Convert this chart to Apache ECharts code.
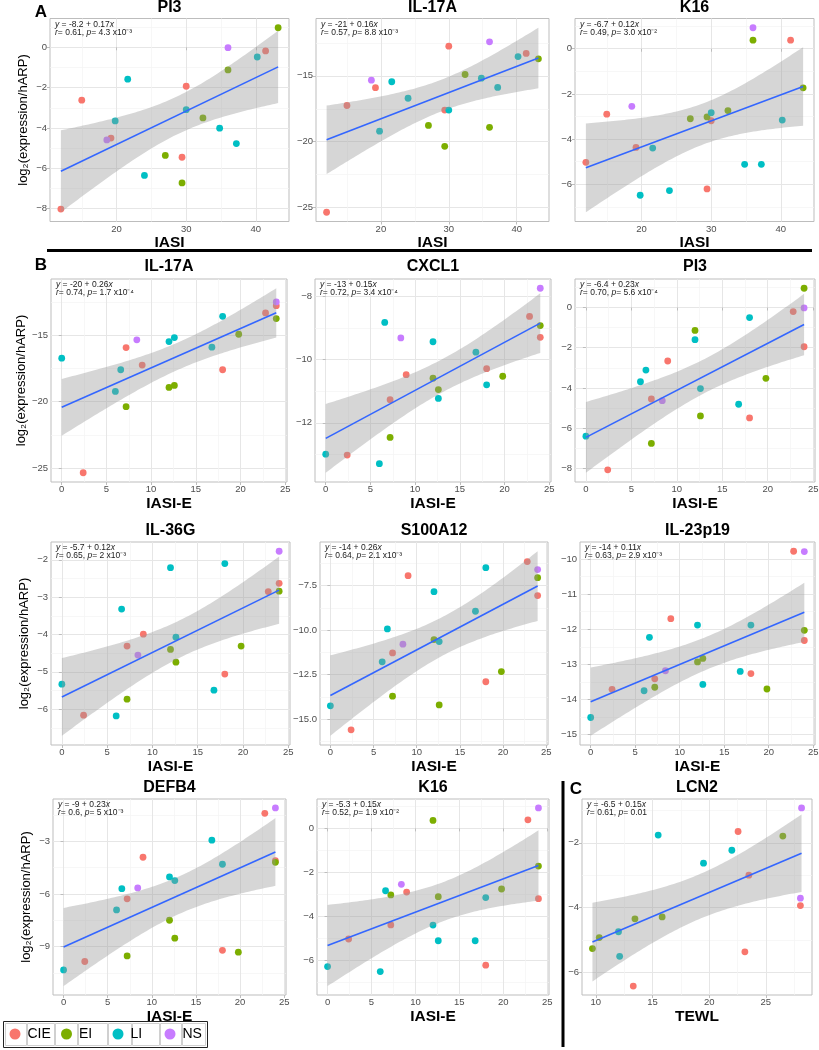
<!DOCTYPE html>
<html><head><meta charset="utf-8">
<script src="https://cdn.jsdelivr.net/npm/echarts@6/dist/echarts.min.js"></script>
<style>html,body{margin:0;padding:0;background:#fff}#c{width:819px;height:1050px}</style>
</head><body><div id="c"></div>
<script>
// ---------------- DATA ----------------
const groupNames = ['CIE', 'EI', 'LI', 'NS'];

// Panel A: IASI
const iasi = [12, 15, 18.6, 19.2, 19.8, 21.6, 24, 27, 29.4, 29.4, 30, 30, 32.4, 34.8, 36, 36, 37.2, 40.2, 41.4, 43.2];
const iasiGroup = ['CIE','CIE','NS','CIE','LI','LI','LI','EI','CIE','EI','CIE','LI','EI','LI','NS','EI','LI','LI','CIE','EI'];
const pi3A   = [-8.02, -2.62, -4.59, -4.5, -3.65, -1.58, -6.35, -5.36, -5.45, -6.72, -1.93, -3.09, -3.5, -4.01, -0.02, -1.12, -4.77, -0.48, -0.18, 0.97];
const il17aA = [-25.35, -17.25, -15.33, -15.9, -19.2, -15.45, -16.7, -18.76, -17.6, -20.35, -12.75, -17.6, -14.9, -15.18, -12.42, -18.91, -15.88, -13.54, -13.3, -13.71];
const k16A   = [-5.03, -2.9, -2.55, -4.37, -6.49, -4.4, -6.28, -3.1, -6.21, -3.02, -3.19, -2.83, -2.74, -5.12, 0.93, 0.38, -5.12, -3.16, 0.38, -1.73];

// Panel B: IASI-E
const iasiE = [0, 2.4, 6, 6.6, 7.2, 7.2, 8.4, 9, 12, 12, 12.6, 12.6, 16.8, 18, 18, 19.8, 22.8, 24, 24, 24];
const iasiEGroup = ['LI','CIE','LI','LI','CIE','EI','NS','CIE','LI','EI','LI','EI','LI','LI','CIE','EI','CIE','NS','CIE','EI'];
const il17aB  = [-16.73, -25.35, -19.23, -17.6, -15.93, -20.38, -15.35, -17.25, -15.48, -18.93, -15.18, -18.78, -15.9, -13.58, -17.6, -14.93, -13.33, -12.5, -12.78, -13.75];
const cxcl1B  = [-12.99, -13.02, -13.29, -8.83, -11.27, -12.46, -9.32, -10.48, -9.44, -10.59, -11.23, -10.95, -9.77, -10.8, -10.29, -10.53, -8.64, -7.75, -9.3, -8.93];
const pi3B    = [-6.4, -8.07, -3.69, -3.11, -4.55, -6.76, -4.63, -2.66, -1.6, -1.14, -4.03, -5.39, -4.81, -0.5, -5.49, -3.52, -0.2, -0.02, -1.95, 0.96];
const il36gB  = [-5.33, -6.16, -6.18, -3.32, -4.31, -5.73, -4.55, -3.99, -2.21, -4.4, -4.07, -4.74, -5.49, -2.1, -5.06, -4.31, -2.85, -1.77, -2.63, -2.84];
const s100a12B = [-14.25, -15.6, -11.78, -9.93, -11.28, -13.71, -10.79, -6.94, -7.84, -10.53, -10.64, -14.2, -8.94, -6.49, -12.9, -12.33, -6.15, -6.6, -8.06, -7.05];
const il23p19B = [-14.51, -13.71, -13.75, -12.23, -13.41, -13.65, -13.18, -11.7, -11.88, -12.93, -13.57, -12.83, -13.2, -11.88, -13.26, -13.7, -9.78, -9.79, -12.32, -12.03];
const defb4B  = [-10.33, -9.85, -6.91, -5.7, -6.28, -9.53, -5.66, -3.91, -5.03, -7.5, -5.24, -8.52, -2.94, -4.31, -9.21, -9.32, -1.41, -1.1, -4.1, -4.2];
const k16B    = [-6.27, -5.02, -6.5, -2.83, -4.38, -3.02, -2.54, -2.89, -4.39, 0.36, -5.1, -3.1, -5.1, -3.14, -6.21, -2.75, 0.39, 0.93, -3.19, -1.71];

// Panel C: TEWL
const tewl = [9.7, 10.3, 12.0, 12.1, 13.3, 13.45, 15.5, 15.85, 19.5, 22.0, 22.55, 23.15, 23.5, 26.5, 28.15, 28.05, 28.05];
const tewlGroup = ['EI','EI','LI','LI','CIE','EI','LI','EI','LI','LI','CIE','CIE','CIE','EI','NS','NS','CIE'];
const lcn2C = [-5.27, -4.93, -4.75, -5.51, -6.43, -4.35, -1.76, -4.29, -2.63, -2.23, -1.65, -5.37, -3.0, -1.79, -0.92, -3.71, -3.94];

// Labels / annotations
const panelTitles = ['PI3', 'IL-17A', 'K16', 'IL-17A', 'CXCL1', 'PI3', 'IL-36G', 'S100A12', 'IL-23p19', 'DEFB4', 'K16', 'LCN2'];
const xTitles = ['IASI', 'IASI', 'IASI', 'IASI-E', 'IASI-E', 'IASI-E', 'IASI-E', 'IASI-E', 'IASI-E', 'IASI-E', 'IASI-E', 'TEWL'];
const yTitle = 'log\u2082(expression/hARP)';
const eqLine1 = [' = -8.2 + 0.17', ' = -21 + 0.16', ' = -6.7 + 0.12', ' = -20 + 0.26', ' = -13 + 0.15', ' = -6.4 + 0.23',
                 ' = -5.7 + 0.12', ' = -14 + 0.26', ' = -14 + 0.11', ' = -9 + 0.23', ' = -5.3 + 0.15', ' = -6.5 + 0.15'];
const eqR = ['0.61', '0.57', '0.49', '0.74', '0.72', '0.70', '0.65', '0.64', '0.63', '0.6', '0.52', '0.61'];
const eqP = ['4.3 x10\u207B\u00B3', '8.8 x10\u207B\u00B3', '3.0 x10\u207B\u00B2', '1.7 x10\u207B\u2074', '3.4 x10\u207B\u2074', '5.6 x10\u207B\u2074',
             '2 x10\u207B\u00B3', '2.1 x10\u207B\u00B3', '2.9 x10\u207B\u00B3', '5 x10\u207B\u00B3', '1.9 x10\u207B\u00B2', '0.01'];
const xTicksA = [20, 30, 40];
const xTicksB = [0, 5, 10, 15, 20, 25];
const xTicksC = [10, 15, 20, 25];
const yTicks = [
  [-8, -6, -4, -2, 0], [-25, -20, -15], [-6, -4, -2, 0],
  [-25, -20, -15], [-12, -10, -8], [-8, -6, -4, -2, 0],
  [-6, -5, -4, -3, -2], [-15, -12.5, -10, -7.5], [-15, -14, -13, -12, -11, -10],
  [-9, -6, -3], [-6, -4, -2, 0], [-6, -4, -2]
];
const yDecimals = [0, 0, 0, 0, 0, 0, 0, 1, 0, 0, 0, 0];

// ---------------- LAYOUT / STYLE ----------------
const FONT = '"Liberation Sans", Arial, Helvetica, sans-serif';
const colorOf = {CIE: '#F8766D', EI: '#7CAE00', LI: '#00BFC4', NS: '#C77CFF'};
const boxes = [
  {l: 50, t: 18.5, r: 289, b: 221.5}, {l: 316, t: 18.5, r: 549, b: 221.5}, {l: 575, t: 18.5, r: 814, b: 221.5},
  {l: 51, t: 279, r: 287, b: 482}, {l: 315, t: 279, r: 551, b: 482}, {l: 575, t: 279, r: 815, b: 482},
  {l: 51, t: 542, r: 290, b: 745}, {l: 320, t: 542, r: 548, b: 745}, {l: 580, t: 542, r: 815, b: 745},
  {l: 53, t: 799, r: 286, b: 995}, {l: 317, t: 799, r: 549, b: 995}, {l: 582, t: 799, r: 812, b: 995}
];
const titleY = [7.5, 7.5, 7.5, 266.5, 266.5, 266.5, 531, 531, 531, 788, 788, 788];
const xNameGap = [10, 10, 10, 12.5, 12.5, 12.5, 12.5, 12.5, 12.5, 9.5, 9.5, 9.5];

const panelX = [iasi, iasi, iasi, iasiE, iasiE, iasiE, iasiE, iasiE, iasiE, iasiE, iasiE, tewl];
const panelG = [iasiGroup, iasiGroup, iasiGroup, iasiEGroup, iasiEGroup, iasiEGroup, iasiEGroup, iasiEGroup, iasiEGroup, iasiEGroup, iasiEGroup, tewlGroup];
const panelY = [pi3A, il17aA, k16A, il17aB, cxcl1B, pi3B, il36gB, s100a12B, il23p19B, defb4B, k16B, lcn2C];
const panelXTicks = [xTicksA, xTicksA, xTicksA, xTicksB, xTicksB, xTicksB, xTicksB, xTicksB, xTicksB, xTicksB, xTicksB, xTicksC];

// ---------------- STATS (lm + 95% CI, as geom_smooth) ----------------
function tQuantile(df) {
  const z = 1.959964;
  return z + (z**3 + z) / (4*df) + (5*z**5 + 16*z**3 + 3*z) / (96*df*df) + (3*z**7 + 19*z**5 + 17*z**3 - 15*z) / (384*df**3);
}
function fitLm(xs, ys) {
  const n = xs.length;
  const mx = xs.reduce((a, b) => a + b, 0) / n, my = ys.reduce((a, b) => a + b, 0) / n;
  let sxx = 0, sxy = 0;
  for (let i = 0; i < n; i++) { sxx += (xs[i]-mx)**2; sxy += (xs[i]-mx)*(ys[i]-my); }
  const b = sxy / sxx, a = my - b*mx;
  let sse = 0;
  for (let i = 0; i < n; i++) sse += (ys[i] - a - b*xs[i])**2;
  const s2 = sse / (n - 2), t = tQuantile(n - 2);
  const x0 = Math.min(...xs), x1 = Math.max(...xs);
  const band = [];
  for (let k = 0; k < 80; k++) {
    const x = x0 + (x1 - x0) * k / 79;
    const yh = a + b*x;
    const se = Math.sqrt(s2 * (1/n + (x-mx)**2 / sxx));
    band.push({x, yh, lo: yh - t*se, hi: yh + t*se});
  }
  return {a, b, x0, x1, band};
}
function expand(lo, hi) { const d = (hi - lo) * 0.05; return [lo - d, hi + d]; }
function minorOf(ticks, lim) {
  const out = [];
  const step = ticks.length > 1 ? ticks[1] - ticks[0] : 1;
  const cand = [ticks[0] - step/2];
  for (let i = 0; i < ticks.length - 1; i++) cand.push((ticks[i] + ticks[i+1]) / 2);
  cand.push(ticks[ticks.length-1] + step/2);
  cand.forEach(v => { if (v > lim[0] && v < lim[1]) out.push(v); });
  return out;
}
function fmt(v, d) { return (v < 0 ? '\u2212' : '') + Math.abs(v).toFixed(d); }

// ---------------- BUILD OPTION ----------------
const grids = [], xAxes = [], yAxes = [], series = [], graphics = [];

panelY.forEach((ys, i) => {
  const xs = panelX[i], gs = panelG[i], bx = boxes[i];
  const fit = fitLm(xs, ys);
  const xl = expand(Math.min(...xs), Math.max(...xs));
  const yl = expand(Math.min(...ys, ...fit.band.map(d => d.lo)), Math.max(...ys, ...fit.band.map(d => d.hi)));
  const xt = panelXTicks[i].filter(v => v >= xl[0] && v <= xl[1]);
  const yt = yTicks[i].filter(v => v >= yl[0] && v <= yl[1]);
  const firstCol = (i % 3 === 0);

  grids.push({left: bx.l, top: bx.t, width: bx.r - bx.l, height: bx.b - bx.t,
    show: true, backgroundColor: '#FFFFFF', borderColor: '#BDBDBD', borderWidth: 1, containLabel: false, outerBoundsMode: 'none'});

  xAxes.push({
    gridIndex: i, type: 'value', min: xl[0], max: xl[1], position: 'bottom',
    axisLine: {show: false},
    axisTick: {show: true, length: 3, lineStyle: {color: '#BDBDBD'}, customValues: xt},
    axisLabel: {show: true, customValues: xt, formatter: v => fmt(v, 0), fontSize: 9.5, color: '#4D4D4D', margin: 2.5, fontFamily: FONT},
    splitLine: {show: true, lineStyle: {color: '#E6E6E6', width: 1}},
    name: xTitles[i], nameLocation: 'middle', nameGap: xNameGap[i],
    nameTextStyle: {fontSize: 15.5, fontWeight: 'bold', color: '#000', fontFamily: FONT}
  });
  xAxes.push({
    gridIndex: i, type: 'value', min: xl[0], max: xl[1], position: 'bottom',
    axisLine: {show: false},
    axisTick: {show: false, customValues: minorOf(xt, xl)},
    axisLabel: {show: false, customValues: minorOf(xt, xl)},
    splitLine: {show: true, lineStyle: {color: '#F3F3F3', width: 0.7}}
  });
  const yMain = {
    gridIndex: i, type: 'value', min: yl[0], max: yl[1], position: 'left',
    axisLine: {show: false},
    axisTick: {show: true, length: 3, lineStyle: {color: '#BDBDBD'}, customValues: yt},
    axisLabel: {show: true, customValues: yt, formatter: v => fmt(v, yDecimals[i]), fontSize: 9.5, color: '#4D4D4D', margin: 3, fontFamily: FONT},
    splitLine: {show: true, lineStyle: {color: '#E6E6E6', width: 1}}
  };
  if (firstCol) {
    yMain.name = yTitle; yMain.nameLocation = 'middle'; yMain.nameGap = 20.5;
    yMain.nameTextStyle = {fontSize: 13, color: '#000', fontFamily: FONT};
  }
  yAxes.push(yMain);
  yAxes.push({
    gridIndex: i, type: 'value', min: yl[0], max: yl[1], position: 'left',
    axisLine: {show: false},
    axisTick: {show: false, customValues: minorOf(yt, yl)},
    axisLabel: {show: false, customValues: minorOf(yt, yl)},
    splitLine: {show: true, lineStyle: {color: '#F3F3F3', width: 0.7}}
  });

  // points by group
  groupNames.forEach(g => {
    const pts = [];
    xs.forEach((x, k) => { if (gs[k] === g) pts.push([x, ys[k]]); });
    series.push({
      name: g, type: 'scatter', xAxisIndex: 2*i, yAxisIndex: 2*i, data: pts,
      symbol: 'circle', symbolSize: 6.8, itemStyle: {color: colorOf[g], opacity: 1}, z: 2,
      emphasis: {disabled: true}
    });
  });
  // confidence ribbon (drawn over the points as in ggplot)
  const band = fit.band;
  series.push({
    type: 'custom', xAxisIndex: 2*i, yAxisIndex: 2*i, z: 3, silent: true, clip: true,
    data: [[band[0].x, band[0].yh]],
    renderItem: (params, api) => {
      const up = band.map(d => api.coord([d.x, d.hi]));
      const dn = band.slice().reverse().map(d => api.coord([d.x, d.lo]));
      return {type: 'polygon', shape: {points: up.concat(dn)}, style: {fill: 'rgba(153,153,153,0.4)'}};
    }
  });
  // regression line
  series.push({
    type: 'line', xAxisIndex: 2*i, yAxisIndex: 2*i, z: 4, silent: true,
    data: [[fit.x0, fit.a + fit.b*fit.x0], [fit.x1, fit.a + fit.b*fit.x1]],
    symbol: 'none', showSymbol: false, lineStyle: {color: '#3366FF', width: 1.6}, emphasis: {disabled: true}
  });

  // panel title
  graphics.push({type: 'text', x: (bx.l + bx.r) / 2, y: titleY[i], z: 10,
    style: {text: panelTitles[i], font: 'bold 16px ' + FONT, fill: '#000', textAlign: 'center', textVerticalAlign: 'middle', align: 'center', verticalAlign: 'middle'}});
  // annotation
  const it = {fontStyle: 'italic', fontSize: 8.5, fontFamily: FONT, fill: '#1A1A1A', lineHeight: 8};
  const nt = {fontSize: 8.5, fontFamily: FONT, fill: '#1A1A1A', lineHeight: 8};
  graphics.push({type: 'text', x: bx.l + 5, y: bx.t + 2, z: 10,
    style: {
      text: '{i|y}{n|' + eqLine1[i] + '}{i|x}\n{i|r}{n|= ' + eqR[i] + ', }{i|p}{n|= ' + eqP[i] + '}',
      rich: {i: it, n: nt}, fontSize: 8.5, fontFamily: FONT, fill: '#1A1A1A', lineHeight: 8,
      textAlign: 'left', textVerticalAlign: 'top', align: 'left', verticalAlign: 'top'
    }});
});

// panel letters
[['A', 41, 12], ['B', 41, 265.5], ['C', 576, 789]].forEach(([t, x, y]) => {
  graphics.push({type: 'text', x, y, z: 10,
    style: {text: t, font: 'bold 17px ' + FONT, fill: '#000', textAlign: 'center', textVerticalAlign: 'middle', align: 'center', verticalAlign: 'middle'}});
});
// divider lines
graphics.push({type: 'line', z: 10, shape: {x1: 47, y1: 250.5, x2: 812, y2: 250.5}, style: {stroke: '#000', lineWidth: 3}});
graphics.push({type: 'line', z: 10, shape: {x1: 563, y1: 781, x2: 563, y2: 1047}, style: {stroke: '#000', lineWidth: 3}});
// legend frame
graphics.push({type: 'rect', z: 1, shape: {x: 3.5, y: 1021.5, width: 204, height: 26}, style: {fill: '#fff', stroke: '#222', lineWidth: 1}});
[[5, 27], [27, 55], [55, 78], [78, 108], [108, 132], [132, 160], [160, 182], [182, 206]].forEach(([a, b]) => {
  graphics.push({type: 'rect', z: 2, shape: {x: a + 0.5, y: 1023.5, width: b - a - 1, height: 22}, style: {fill: 'none', stroke: '#D0D0D0', lineWidth: 1}});
});

const legendLeft = [9.5, 61, 112.5, 164.5];
const legends = groupNames.map((g, k) => ({
  data: [g], left: legendLeft[k], top: 1027, padding: 0, icon: 'circle', itemWidth: 11, itemHeight: 11,
  itemGap: 0, selectedMode: false, z: 20,
  textStyle: {fontSize: 14, color: '#000', fontFamily: FONT, padding: [0, 0, 0, 2]}
}));

const chart = echarts.init(document.getElementById('c'), null, {renderer: 'canvas'});
chart.setOption({
  backgroundColor: '#FFFFFF',
  animation: false,
  textStyle: {fontFamily: FONT},
  grid: grids, xAxis: xAxes, yAxis: yAxes, series: series,
  legend: legends, graphic: graphics
});
</script></body></html>
